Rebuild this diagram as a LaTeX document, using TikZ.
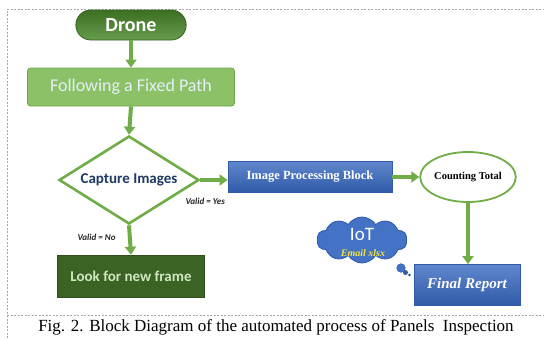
\documentclass[tikz,border=0pt]{standalone}
\usepackage{fontspec}
\setmainfont{Liberation Serif}
\newfontfamily\calibri{Carlito}
\usetikzlibrary{shapes.geometric,shapes.symbols,shapes.misc,arrows.meta,shadings}

\definecolor{arrowgreen}{HTML}{70AD47}
\definecolor{darkgreen}{HTML}{3B6424}
\definecolor{drongreen}{HTML}{4C8A2C}
\definecolor{pathgreen}{HTML}{8CC168}
\definecolor{pathedge}{HTML}{6FA54A}
\definecolor{pathtext}{HTML}{E4EEF8}
\definecolor{looktext}{HTML}{CFE6BF}
\definecolor{blockblue}{HTML}{4472C4}
\definecolor{blockdark}{HTML}{2F5AA8}
\definecolor{navytext}{HTML}{1F3864}
\definecolor{mailyellow}{HTML}{F2E24A}

\tikzset{
  x=1pt, y=-1pt,
  flow/.style={draw=arrowgreen, line width=4pt,
    -{Triangle[length=8pt,width=11pt]}},
  bluebox/.style={rectangle, draw=blockdark, line width=0.8pt,
    top color=blockblue!85!white, bottom color=blockdark,
    text=white, inner sep=0pt},
  lbl/.style={font=\calibri\bfseries\itshape\fontsize{9}{10}\selectfont, text=black!85}
}

\begin{document}
\begin{tikzpicture}
  \useasboundingbox (0,0) rectangle (544,338);
  \fill[white] (0,0) rectangle (544,338);

  % frame around the figure
  \draw[black!35, dashed, dash pattern=on 2pt off 1.5pt, line width=0.6pt]
    (7,338) -- (7,9) -- (544,9);
  \draw[black!35, dashed, dash pattern=on 2pt off 1.5pt, line width=0.6pt]
    (7,315) -- (544,315);

  % nodes
  \node[rounded rectangle, minimum width=117pt, minimum height=30pt,
        draw=drongreen!70!black, line width=0.8pt,
        top color=drongreen!80!black, bottom color=drongreen!85!white,
        text=white, font=\calibri\bfseries\fontsize{20}{22}\selectfont]
    (drone) at (131,25) {Drone};

  \node[rectangle, rounded corners=3pt, minimum width=207pt, minimum height=38pt,
        fill=pathgreen, draw=pathedge, line width=0.8pt,
        text=pathtext, font=\calibri\fontsize{18}{20}\selectfont]
    (path) at (131,87) {Following a Fixed Path};

  \node[diamond, aspect=1.6, minimum width=140pt, minimum height=88pt, inner sep=0pt,
        draw=arrowgreen, line width=2.6pt, fill=white,
        text=navytext, font=\calibri\bfseries\fontsize{15}{17}\selectfont]
    (capture) at (129,180) {Capture Images};

  \node[rectangle, minimum width=147pt, minimum height=42pt,
        fill=darkgreen, draw=darkgreen!80!black, line width=0.6pt,
        text=looktext, font=\calibri\bfseries\fontsize{15}{17}\selectfont]
    (look) at (131,276) {Look for new frame};

  \node[bluebox, minimum width=164pt, minimum height=31pt,
        font=\bfseries\fontsize{12.5}{14}\selectfont]
    (ipb) at (310,177) {Image Processing Block};

  \node[ellipse, minimum width=90pt, minimum height=50pt, inner sep=0pt,
        draw=arrowgreen, line width=1.8pt, fill=white,
        font=\bfseries\fontsize{10.5}{12}\selectfont]
    (count) at (468,177) {Counting Total};

  \node[bluebox, minimum width=106pt, minimum height=41pt,
        font=\bfseries\itshape\fontsize{15}{17}\selectfont]
    (report) at (467,285) {Final Report};

  \node[cloud, cloud puffs=10, cloud puff arc=115, aspect=2.0,
        minimum width=90pt, minimum height=46pt, inner sep=0pt,
        fill=blockblue, draw=blockdark, line width=0.8pt]
    (iot) at (362,240) {};
  \node[text=white, font=\calibri\fontsize{19}{21}\selectfont]
    (iottext) at (362,234) {IoT};
  \node[text=mailyellow, font=\bfseries\itshape\fontsize{10}{11}\selectfont]
    (mail) at (363,253) {Email xlsx};
  \fill[blockblue, draw=blockdark, line width=0.5pt] (401,268) circle (4.3pt);
  \fill[blockblue!80!black] (405.5,272.5) circle (2.5pt);
  \fill[blockblue!60!black] (409.5,275) circle (1.4pt);

  % connectors
  \draw[flow] (drone.south) -- (path.north);
  \draw[flow] (path.south) -- (capture.north);
  \draw[flow] (capture.east) -- (capture.east -| ipb.west);
  \draw[flow] (capture.south) -- (look.north);
  \draw[flow] (ipb.east) -- (ipb.east -| count.west);
  \draw[flow] (count.south) -- (count.south |- report.north);

  \node[lbl, anchor=west] (yes) at (182,201) {Valid = Yes};
  \node[lbl, anchor=west] (no) at (74,237) {Valid = No};

  % caption
  \node[font=\fontsize{17}{19}\selectfont, inner sep=0pt] (caption) at (276,327)
    {Fig. 2. Block Diagram of the automated process of Panels\ \ Inspection};
\end{tikzpicture}
\end{document}
